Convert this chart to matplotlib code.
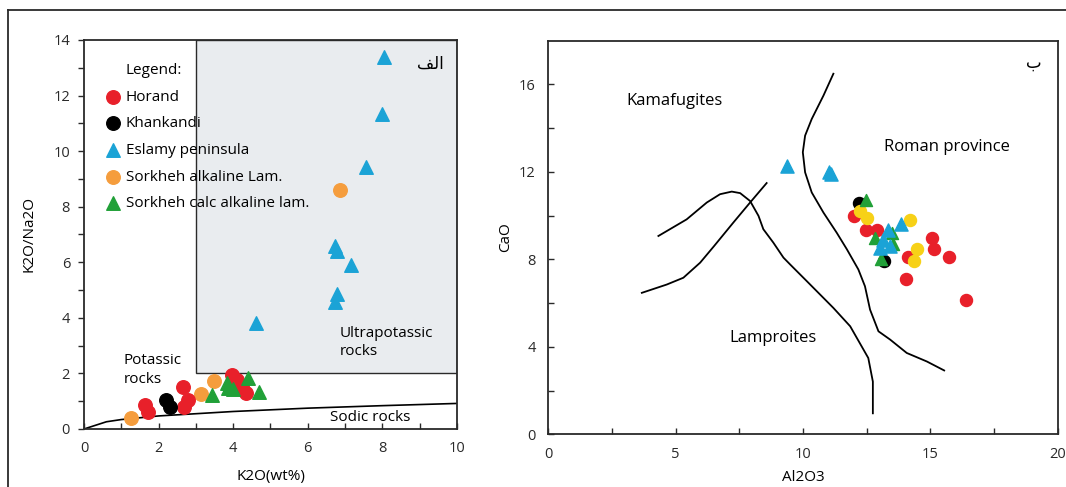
import numpy as np
import matplotlib
matplotlib.use('Agg')
from matplotlib import pyplot as plt
from matplotlib.lines import Line2D
from matplotlib.patches import Rectangle

plt.rcParams['font.family'] = ['Open Sans', 'DejaVu Sans']

# ---- left panel data: K2O (wt%) vs K2O/Na2O
horand_k2o = [1.64, 1.72, 2.65, 2.8, 2.68, 3.96, 4.09, 4.23, 4.34]
horand_ratio = [0.86, 0.62, 1.5, 1.04, 0.8, 1.94, 1.76, 1.52, 1.28]
khan_k2o = [2.2, 2.3]
khan_ratio = [1.04, 0.8]
eslamy_k2o = [8.05, 8.0, 7.55, 6.72, 6.78, 7.17, 6.79, 6.72, 4.61]
eslamy_ratio = [13.4, 11.35, 9.43, 6.6, 6.4, 5.9, 4.85, 4.58, 3.8]
alk_k2o = [1.25, 3.15, 3.49, 6.85]
alk_ratio = [0.38, 1.26, 1.73, 8.6]
calc_k2o = [3.42, 3.83, 3.87, 4.0, 4.4, 4.7]
calc_ratio = [1.22, 1.64, 1.46, 1.43, 1.85, 1.34]
sodic_x = [0, 0.6, 1, 2, 4, 6, 8, 10]
sodic_y = [0, 0.26, 0.34, 0.47, 0.63, 0.75, 0.84, 0.92]

# ---- right panel data: Al2O3 vs CaO
r_horand_al = [11.98, 12.47, 12.92, 15.05, 15.14, 14.1, 15.74, 14.03, 16.39]
r_horand_ca = [9.99, 9.34, 9.34, 8.99, 8.46, 8.12, 8.1, 7.08, 6.13]
r_yellow_al = [12.24, 12.5, 14.2, 14.46, 14.37]
r_yellow_ca = [10.22, 9.87, 9.79, 8.49, 7.92]
r_khan_al = [12.2, 13.19]
r_khan_ca = [10.57, 7.92]
r_calc_al = [12.47, 12.83, 13.48, 13.55, 13.06]
r_calc_ca = [10.72, 8.99, 9.22, 8.69, 8.03]
r_eslamy_al = [9.36, 11.0, 11.1, 13.84, 13.35, 13.15, 13.02, 13.42]
r_eslamy_ca = [12.25, 12.0, 11.9, 9.6, 9.34, 8.88, 8.54, 8.61]

arc_x = [4.32, 5.43, 6.22, 6.74, 7.2, 7.53, 7.92, 8.25, 8.44, 8.83, 9.23, 9.49, 10.15,
         11.19, 11.85, 12.56, 12.74, 12.74]
arc_y = [9.07, 9.83, 10.6, 10.98, 11.1, 11.03, 10.67, 9.99, 9.38, 8.77, 8.08, 7.77, 7.0,
         5.78, 4.94, 3.49, 2.41, 0.96]
line2_x = [3.67, 4.65, 5.3, 5.96, 6.5, 7.26, 7.92, 8.57]
line2_y = [6.47, 6.85, 7.16, 7.85, 8.6, 9.68, 10.6, 11.49]
roman_x = [11.19, 10.8, 10.34, 10.08, 9.99, 10.08, 10.34, 10.8, 11.32, 11.72, 12.17,
           12.43, 12.63, 12.96, 13.42, 14.07, 14.86, 15.54]
roman_y = [16.49, 15.49, 14.42, 13.66, 12.9, 11.98, 11.06, 10.14, 9.22, 8.46, 7.54,
           6.77, 5.7, 4.71, 4.33, 3.72, 3.33, 2.92]

red = '#e8202a'
blue = '#1ba3d6'
orange = '#f59d3d'
green = '#21a038'
yellow = '#f7d117'
dark = '#2a2a2a'

fig = plt.figure(figsize=(10.66, 4.87), dpi=100)

### left panel
ax1 = fig.add_axes([0.0788, 0.1191, 0.3499, 0.7988])
ax1.add_patch(Rectangle((3, 2), 7, 12, facecolor='#e9ecef', edgecolor=dark, lw=1.0, zorder=0))
ax1.plot(sodic_x, sodic_y, color='k', lw=1.2, zorder=1)
ms = 95
ax1.scatter(horand_k2o, horand_ratio, s=ms, c=red, marker='o', label='Horand', zorder=3)
ax1.scatter(khan_k2o, khan_ratio, s=ms, c='k', marker='o', label='Khankandi', zorder=3)
ax1.scatter(eslamy_k2o, eslamy_ratio, s=ms, c=blue, marker='^', label='Eslamy peninsula', zorder=3)
ax1.scatter(alk_k2o, alk_ratio, s=ms, c=orange, marker='o', label='Sorkheh alkaline Lam.', zorder=2)
ax1.scatter(calc_k2o, calc_ratio, s=ms, c=green, marker='^', label='Sorkheh calc alkaline lam.', zorder=3)
ax1.set_xlim(0, 10)
ax1.set_ylim(0, 14)
ax1.set_xticks(np.arange(0, 11, 2))
ax1.set_xticks(np.arange(1, 10, 2), minor=True)
ax1.set_yticks(np.arange(0, 15, 2))
ax1.set_yticks(np.arange(1, 14, 2), minor=True)
ax1.tick_params(axis='both', which='both', direction='in', length=4, width=1, labelsize=10.5, colors=dark)
ax1.tick_params(axis='y', which='both', direction='out', pad=6)
ax1.tick_params(axis='x', which='both', pad=9)
for sp in ax1.spines.values():
    sp.set_linewidth(1.3)
    sp.set_color(dark)
ax1.set_xlabel('K2O(wt%)', fontsize=11, labelpad=9)
ax1.set_ylabel('K2O/Na2O', fontsize=11, labelpad=12)
ax1.text(1.1, 12.9, 'Legend:', fontsize=11, ha='left', va='center')
ax1.legend(loc='upper left', bbox_to_anchor=(0.054, 0.872), frameon=False, fontsize=11,
           handletextpad=0.2, labelspacing=0.76, borderpad=0, borderaxespad=0,
           handlelength=1.2, scatterpoints=1)
ax1.text(1.07, 2.12, 'Potassic\nrocks', fontsize=11, ha='left', va='center', linespacing=1.3)
ax1.text(6.85, 3.11, 'Ultrapotassic\nrocks', fontsize=11, ha='left', va='center', linespacing=1.3)
ax1.text(6.6, 0.41, 'Sodic rocks', fontsize=11, ha='left', va='center')
ax1.text(9.28, 13.15, '\ufed2\ufedf\ufe8d', fontsize=12, ha='center', va='center',
         family=['DejaVu Sans'])

### right panel
ax2 = fig.add_axes([0.5144, 0.1082, 0.4779, 0.8082])
ax2.plot(arc_x, arc_y, color='k', lw=1.3)
ax2.plot(line2_x, line2_y, color='k', lw=1.3)
ax2.plot(roman_x, roman_y, color='k', lw=1.3)
ms2 = 75
ax2.scatter(r_khan_al, r_khan_ca, s=ms2, c='k', marker='o', zorder=3)
ax2.scatter(r_horand_al, r_horand_ca, s=ms2, c=red, marker='o', zorder=3)
ax2.scatter(r_yellow_al, r_yellow_ca, s=ms2, c=yellow, marker='o', zorder=3)
ax2.scatter(r_calc_al, r_calc_ca, s=ms2, c=green, marker='^', zorder=4)
ax2.scatter(r_eslamy_al, r_eslamy_ca, s=ms2 + 15, c=blue, marker='^', zorder=5)
ax2.set_xlim(0, 20)
ax2.set_ylim(0, 18)
ax2.set_xticks(np.arange(0, 21, 5))
ax2.set_xticks(np.arange(2.5, 20, 5), minor=True)
ax2.set_yticks(np.arange(0, 17, 4))
ax2.set_yticks(np.arange(2, 17, 4), minor=True)
ax2.tick_params(axis='both', which='both', direction='in', length=4, width=1, labelsize=10.5,
                colors=dark, pad=9)
for sp in ax2.spines.values():
    sp.set_linewidth(1.3)
    sp.set_color(dark)
ax2.set_xlabel('Al2O3', fontsize=11, labelpad=6)
ax2.set_ylabel('CaO', fontsize=11, labelpad=4)
ax2.text(4.97, 15.26, 'Kamafugites', fontsize=12, ha='center', va='center')
ax2.text(15.64, 13.12, 'Roman province', fontsize=12, ha='center', va='center')
ax2.text(8.83, 4.4, 'Lamproites', fontsize=12, ha='center', va='center')
ax2.text(19.04, 17.0, 'ب', fontsize=12, ha='center', va='center', family=['DejaVu Sans'])

# outer frame (top and left edges)
fig.add_artist(Line2D([8 / 1066, 1], [1 - 10 / 487, 1 - 10 / 487], color=dark, lw=1.3))
fig.add_artist(Line2D([8 / 1066, 8 / 1066], [0, 1 - 10 / 487], color=dark, lw=1.3))

plt.savefig('out.png', dpi=100)
